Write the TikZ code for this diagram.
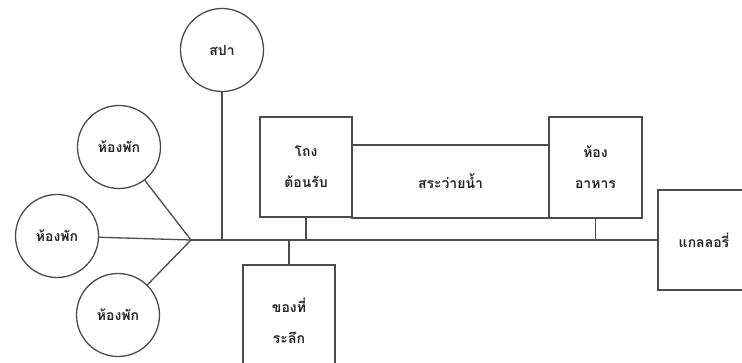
\documentclass[tikz,border=0pt]{standalone}
\usepackage{fontspec}
\newfontfamily\thaifont[Script=Thai]{Loma}
\begin{document}
\begin{tikzpicture}[x=1pt,y=-1pt,
  lc/.style={draw=black!70,line width=1.3pt},
  roomc/.style={lc,circle,minimum size=83pt,inner sep=0pt,font=\thaifont\bfseries\fontsize{14}{16}\selectfont,text=black!85},
  roombox/.style={lc,rectangle,inner sep=0pt,align=center,font=\thaifont\bfseries\fontsize{14}{31}\selectfont,text=black!85}]
\useasboundingbox (0,0) rectangle (742,363);
\clip (0,0) rectangle (742,363);
\node[roomc] (spa) at (222,50) {สปา};
\node[roomc] (r1) at (119,147) {ห้องพัก};
\node[roomc] (r2) at (57,236) {ห้องพัก};
\node[roomc] (r3) at (118,315) {ห้องพัก};
\node[roombox,minimum width=92pt,minimum height=100pt] (lobby) at (306,167) {โถง\\ต้อนรับ};
\node[roombox,minimum width=197pt,minimum height=73pt] (pool) at (450.5,181.5) {สระว่ายน้ำ};
\node[roombox,minimum width=93pt,minimum height=101pt] (dining) at (595.5,167.5) {ห้อง\\อาหาร};
\node[roombox,minimum width=92pt,minimum height=100pt] (gallery) at (704,240) {แกลลอรี่};
\node[roombox,minimum width=92pt,minimum height=112pt] (souv) at (289,321) {ของที่\\ระลึก};
\coordinate (hub) at (191,240);
\draw[lc] (hub) -- (gallery.west);
\draw[lc] (r1) -- (hub);
\draw[lc] (r2) -- (hub);
\draw[lc] (r3) -- (hub);
\draw[lc] (spa.south) -- (spa.south |- hub);
\draw[lc] (lobby.south) -- (lobby.south |- hub);
\draw[lc] (dining.south) -- (dining.south |- hub);
\draw[lc] (souv.north) -- (souv.north |- hub);
\end{tikzpicture}
\end{document}
